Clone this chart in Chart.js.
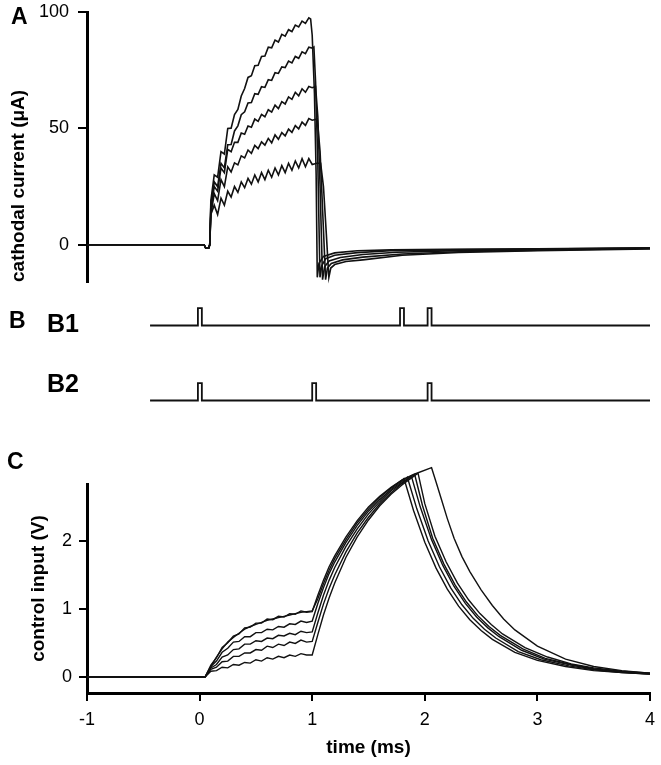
<!DOCTYPE html>
<html>
<head>
<meta charset="utf-8">
<script src="https://cdn.jsdelivr.net/npm/chart.js@4.4.1/dist/chart.umd.min.js"></script>
<style>
  html, body { margin: 0; padding: 0; background: #fff; }
  #fig { position: relative; width: 661px; height: 765px; overflow: hidden; font-family: "Liberation Sans", Arial, sans-serif; }
  canvas { position: absolute; left: 0; }
  .lbl { position: absolute; font-weight: bold; font-size: 23px; line-height: 1; color: #000; }
</style>
</head>
<body>
<div id="fig">
  <canvas id="chartA" width="661" height="300" style="top:0px"></canvas>
  <canvas id="chartB1" width="661" height="35" style="top:300px"></canvas>
  <canvas id="chartB2" width="661" height="35" style="top:375px"></canvas>
  <canvas id="chartC" width="661" height="325" style="top:440px"></canvas>
  <div class="lbl" style="left:11px;top:5px">A</div>
  <div class="lbl" style="left:9px;top:309px">B</div>
  <div class="lbl" style="left:47px;top:311px;font-size:25px">B1</div>
  <div class="lbl" style="left:47px;top:371px;font-size:25px">B2</div>
  <div class="lbl" style="left:7px;top:450px">C</div>
</div>
<script>
// ---- panel A: cathodal current (uA) vs time (ms)
const ticksA = [0, 50, 100];
const baseA = [[-1, 0], [0.04, 0], [0.055, -1.5], [0.08, -1.5], [0.09, 0]];
const riseTimeA = [0.10, 0.13, 0.16, 0.19, 0.22, 0.25, 0.28, 0.31, 0.34, 0.37, 0.40, 0.43, 0.46, 0.49, 0.52,
                   0.55, 0.58, 0.61, 0.64, 0.67, 0.70, 0.73, 0.76, 0.79, 0.82, 0.85, 0.88, 0.91, 0.94, 0.97];
const riseA1 = [19, 30, 29, 40, 39, 50, 50.1, 55.9, 58.1, 63.9, 67.1, 71.9, 72.6, 76.9, 77.1, 80.9, 81.1, 84.9, 84.6, 87.9, 87.1, 90.4, 89.6, 92.4, 91.6, 94.4, 93.6, 96.1, 95.1, 97.5];
const riseA2 = [17, 27, 25, 35, 33, 43, 43.1, 48.9, 51.1, 55.9, 57.1, 60.9, 61.1, 64.9, 64.6, 67.9, 67.6, 70.9, 70.6, 73.9, 73.6, 76.4, 76.1, 78.9, 78.1, 80.9, 80.1, 82.9, 82.1, 84.9];
const riseA3 = [15, 25, 23, 33, 31, 41, 40, 44, 44, 48, 47.5, 51, 50.5, 54, 53, 56, 55, 58, 57, 60, 58.5, 61.5, 60.5, 63.5, 62.5, 65.5, 64, 67, 65.5, 68];
const riseA4 = [13, 22, 19, 28, 25, 33.5, 31.3, 35.2, 34.3, 38.2, 37.3, 40.7, 39.3, 42.7, 41.3, 44.2, 42.8, 45.7, 43.8, 47.2, 45.3, 48.2, 46.8, 49.7, 48.3, 51.2, 49.8, 52.7, 51.3, 54.2];
const riseA5 = [13, 17, 13, 20, 17, 23, 20.5, 25, 22.5, 27, 24.5, 28.5, 26, 30, 27, 31, 28, 32, 29, 33, 30, 34, 31, 35, 32, 36, 33, 37, 33.5, 37];
const tailA1 = [[0.986, 97], [1.0, 90], [1.02, 65], [1.035, 30], [1.045, -14], [1.06, -8], [1.1, -5], [1.2, -3.5], [1.4, -2.6], [1.7, -2.2], [2.2, -2], [3, -1.7], [4, -1.3]];
const tailA2 = [[1.0, 84.5], [1.015, 85], [1.03, 70], [1.05, 35], [1.069, -14], [1.085, -9], [1.12, -6], [1.2, -4.5], [1.4, -3.4], [1.7, -2.6], [2.2, -2.2], [3, -1.8], [4, -1.4]];
const tailA3 = [[1.0, 67.5], [1.03, 68], [1.05, 55], [1.07, 25], [1.092, -15], [1.11, -9.5], [1.15, -7], [1.25, -5.5], [1.45, -4.2], [1.75, -3.2], [2.3, -2.5], [3, -2], [4, -1.5]];
const tailA4 = [[1.0, 53.5], [1.045, 54], [1.07, 40], [1.095, 12], [1.119, -15], [1.135, -10], [1.17, -8], [1.27, -6.5], [1.45, -5.3], [1.8, -4], [2.3, -3], [3, -2.3], [4, -1.6]];
const tailA5 = [[1.0, 34.5], [1.04, 35], [1.075, 35], [1.1, 25], [1.125, 5], [1.148, -14], [1.165, -10], [1.2, -8.5], [1.3, -7.2], [1.45, -6.5], [1.8, -4.5], [2.3, -3.3], [3, -2.5], [4, -1.8]];

// ---- panel B: stimulus pulses
const startB = -0.44;
const pulseWidth = 0.035;
const pulsesB1 = [-0.015, 1.78, 2.025];
const pulsesB2 = [-0.015, 1.0, 2.025];

// ---- panel C: control input (V) vs time (ms)
const ticksC = [0, 1, 2];
const timeTicks = [-1, 0, 1, 2, 3, 4];
const baseC = [[-1, 0], [0.03, 0]];
const riseTimeC = [0.05, 0.1, 0.15, 0.2, 0.25, 0.3, 0.35, 0.4, 0.45, 0.5, 0.55, 0.6, 0.65, 0.7, 0.75, 0.8, 0.85, 0.9, 0.95, 1.0];
const stepC1 = [0, 0.17, 0.28, 0.43, 0.5, 0.6, 0.63, 0.72, 0.73, 0.79, 0.79, 0.85, 0.84, 0.89, 0.88, 0.93, 0.92, 0.97, 0.95, 0.96];
const stepC2 = [0, 0.15, 0.23, 0.36, 0.42, 0.51, 0.52, 0.59, 0.59, 0.65, 0.65, 0.7, 0.69, 0.74, 0.73, 0.78, 0.77, 0.82, 0.8, 0.82];
const stepC3 = [0, 0.13, 0.18, 0.29, 0.32, 0.4, 0.41, 0.48, 0.48, 0.53, 0.52, 0.57, 0.56, 0.61, 0.6, 0.64, 0.62, 0.67, 0.65, 0.66];
const stepC4 = [0, 0.11, 0.14, 0.22, 0.23, 0.3, 0.3, 0.35, 0.35, 0.4, 0.39, 0.45, 0.43, 0.48, 0.46, 0.51, 0.49, 0.54, 0.51, 0.52];
const stepC5 = [0, 0.08, 0.09, 0.14, 0.13, 0.18, 0.17, 0.21, 0.2, 0.25, 0.23, 0.28, 0.26, 0.3, 0.28, 0.32, 0.3, 0.34, 0.32, 0.32];
const stepC6 = [0, 0.15, 0.29, 0.41, 0.51, 0.58, 0.64, 0.7, 0.74, 0.77, 0.8, 0.83, 0.85, 0.87, 0.89, 0.91, 0.93, 0.95, 0.96, 0.97];
const rampC1 = [[1.05, 1.2], [1.1, 1.42], [1.15, 1.62], [1.2, 1.78], [1.3, 2.06], [1.4, 2.3], [1.5, 2.5], [1.6, 2.66], [1.7, 2.79], [1.8, 2.9], [1.815, 2.92],
                [1.9, 2.45], [2.0, 1.98], [2.1, 1.6], [2.2, 1.29], [2.3, 1.04], [2.4, 0.84], [2.5, 0.68], [2.6, 0.55], [2.8, 0.36], [3.0, 0.24], [3.25, 0.15], [3.5, 0.09], [3.75, 0.06], [4.0, 0.04]];
const rampC2 = [[1.05, 1.08], [1.1, 1.31], [1.15, 1.52], [1.2, 1.69], [1.3, 1.98], [1.4, 2.23], [1.5, 2.44], [1.6, 2.61], [1.7, 2.76], [1.8, 2.88], [1.845, 2.94],
                [1.93, 2.47], [2.03, 2.0], [2.13, 1.62], [2.23, 1.31], [2.33, 1.06], [2.43, 0.86], [2.53, 0.7], [2.63, 0.57], [2.83, 0.37], [3.03, 0.25], [3.28, 0.16], [3.5, 0.1], [3.75, 0.06], [4.0, 0.04]];
const rampC3 = [[1.05, 0.94], [1.1, 1.2], [1.15, 1.42], [1.2, 1.61], [1.3, 1.92], [1.4, 2.18], [1.5, 2.4], [1.6, 2.58], [1.7, 2.74], [1.8, 2.86], [1.88, 2.96],
                [1.96, 2.5], [2.06, 2.02], [2.16, 1.64], [2.26, 1.33], [2.36, 1.08], [2.46, 0.88], [2.56, 0.72], [2.66, 0.59], [2.86, 0.39], [3.06, 0.26], [3.3, 0.17], [3.5, 0.11], [3.75, 0.07], [4.0, 0.04]];
const rampC4 = [[1.05, 0.8], [1.1, 1.07], [1.15, 1.3], [1.2, 1.5], [1.3, 1.84], [1.4, 2.12], [1.5, 2.35], [1.6, 2.55], [1.7, 2.71], [1.8, 2.85], [1.91, 2.98],
                [1.98, 2.52], [2.07, 2.04], [2.17, 1.66], [2.27, 1.35], [2.37, 1.1], [2.47, 0.9], [2.57, 0.74], [2.67, 0.61], [2.87, 0.41], [3.07, 0.27], [3.3, 0.18], [3.5, 0.12], [3.75, 0.07], [4.0, 0.05]];
const rampC5 = [[1.05, 0.62], [1.1, 0.91], [1.15, 1.16], [1.2, 1.38], [1.3, 1.76], [1.4, 2.06], [1.5, 2.31], [1.6, 2.52], [1.7, 2.69], [1.8, 2.83], [1.94, 3.0],
                [2.0, 2.55], [2.09, 2.07], [2.19, 1.69], [2.29, 1.38], [2.39, 1.13], [2.49, 0.93], [2.59, 0.77], [2.69, 0.63], [2.89, 0.43], [3.09, 0.29], [3.3, 0.19], [3.5, 0.13], [3.75, 0.08], [4.0, 0.05]];
const rampC6 = [[1.05, 1.15], [1.1, 1.37], [1.15, 1.57], [1.2, 1.74], [1.3, 2.02], [1.4, 2.27], [1.5, 2.47], [1.6, 2.64], [1.7, 2.78], [1.8, 2.9], [1.9, 2.98], [2.06, 3.08],
                [2.1, 2.87], [2.15, 2.6], [2.2, 2.33], [2.26, 2.04], [2.33, 1.77], [2.4, 1.55], [2.5, 1.28], [2.6, 1.05], [2.7, 0.85], [2.8, 0.69], [3.0, 0.45], [3.25, 0.26], [3.5, 0.15], [3.75, 0.09], [4.0, 0.05]];

const FONT = '"Liberation Sans", Arial, sans-serif';
Chart.defaults.font.family = FONT;
Chart.defaults.color = '#000';

function joinTrace(base, times, vals, tail) {
  return base.map(p => ({ x: p[0], y: p[1] }))
    .concat(times.map((t, i) => ({ x: t, y: vals[i] })))
    .concat(tail.map(p => ({ x: p[0], y: p[1] })));
}

function pulseTrace(onsets) {
  let pts = [{ x: startB, y: 0 }];
  onsets.forEach(t => {
    pts.push({ x: t, y: 0 }, { x: t, y: 1 }, { x: t + pulseWidth, y: 1 }, { x: t + pulseWidth, y: 0 });
  });
  pts.push({ x: 4, y: 0 });
  return pts;
}

function lineSet(data, width) {
  return { data: data, borderColor: '#111', borderWidth: width, pointRadius: 0, fill: false, clip: false };
}

const noPlugins = { legend: { display: false }, tooltip: { enabled: false } };

function yAxis(min, max, ticks, title, titlePad, tickPad, tickLen, align) {
  return {
    min: min, max: max,
    afterBuildTicks: s => { s.ticks = ticks.map(v => ({ value: v })); },
    afterFit: s => { s.width = 87; s.paddingTop = 0; s.paddingBottom = 0; },
    border: { display: true, color: '#000', width: 3 },
    grid: { drawOnChartArea: false, color: '#000', lineWidth: 2, tickLength: tickLen },
    ticks: { padding: tickPad, font: { size: 18 }, color: '#000' },
    title: { display: true, text: title, align: align, color: '#000',
             font: { size: 19, weight: 'bold' }, padding: { top: titlePad, bottom: 0 } }
  };
}

const tracesA = [
  joinTrace(baseA, riseTimeA, riseA1, tailA1),
  joinTrace(baseA, riseTimeA, riseA2, tailA2),
  joinTrace(baseA, riseTimeA, riseA3, tailA3),
  joinTrace(baseA, riseTimeA, riseA4, tailA4),
  joinTrace(baseA, riseTimeA, riseA5, tailA5)
];

new Chart(document.getElementById('chartA'), {
  type: 'line',
  data: { datasets: tracesA.map(d => lineSet(d, 1.6)) },
  options: {
    responsive: false, animation: false, events: [],
    layout: { padding: { left: 0, right: 11, top: 12, bottom: 18 } },
    plugins: noPlugins,
    scales: {
      x: { type: 'linear', min: -1, max: 4, display: false },
      y: yAxis(-16, 100, ticksA, 'cathodal current (\u03bcA)', 7, 9, 9, 'start')
    }
  }
});

function pulseChart(id, onsets) {
  new Chart(document.getElementById(id), {
    type: 'line',
    data: { datasets: [lineSet(pulseTrace(onsets), 1.8)] },
    options: {
      responsive: false, animation: false, events: [],
      layout: { padding: { left: 87, right: 11, top: 4.6, bottom: 6 } },
      plugins: noPlugins,
      scales: {
        x: { type: 'linear', min: -1, max: 4, display: false },
        y: { min: -0.2, max: 1.2, display: false }
      }
    }
  });
}
pulseChart('chartB1', pulsesB1);
pulseChart('chartB2', pulsesB2);

const tracesC = [
  joinTrace(baseC, riseTimeC, stepC1, rampC1),
  joinTrace(baseC, riseTimeC, stepC2, rampC2),
  joinTrace(baseC, riseTimeC, stepC3, rampC3),
  joinTrace(baseC, riseTimeC, stepC4, rampC4),
  joinTrace(baseC, riseTimeC, stepC5, rampC5),
  joinTrace(baseC, riseTimeC, stepC6, rampC6)
];

new Chart(document.getElementById('chartC'), {
  type: 'line',
  data: { datasets: tracesC.map(d => lineSet(d, 1.4)) },
  options: {
    responsive: false, animation: false, events: [],
    layout: { padding: { left: 0, right: 11, top: 44, bottom: 0 } },
    plugins: noPlugins,
    scales: {
      x: {
        type: 'linear', min: -1, max: 4,
        afterBuildTicks: s => { s.ticks = timeTicks.map(v => ({ value: v })); },
        afterFit: s => { s.height = 72; s.paddingLeft = 0; s.paddingRight = 0; },
        border: { display: true, color: '#000', width: 3 },
        grid: { drawOnChartArea: false, color: '#000', lineWidth: 2, tickLength: 8 },
        ticks: { padding: 8, font: { size: 18 }, color: '#000', maxRotation: 0, autoSkip: false },
        title: { display: true, text: 'time (ms)', color: '#000',
                 font: { size: 19, weight: 'bold' }, padding: { top: 0, bottom: 5.6 } }
      },
      y: yAxis(-0.24, 2.84, ticksC, 'control input (V)', 27.6, 7, 8, 'center')
    }
  }
});
</script>
</body>
</html>
